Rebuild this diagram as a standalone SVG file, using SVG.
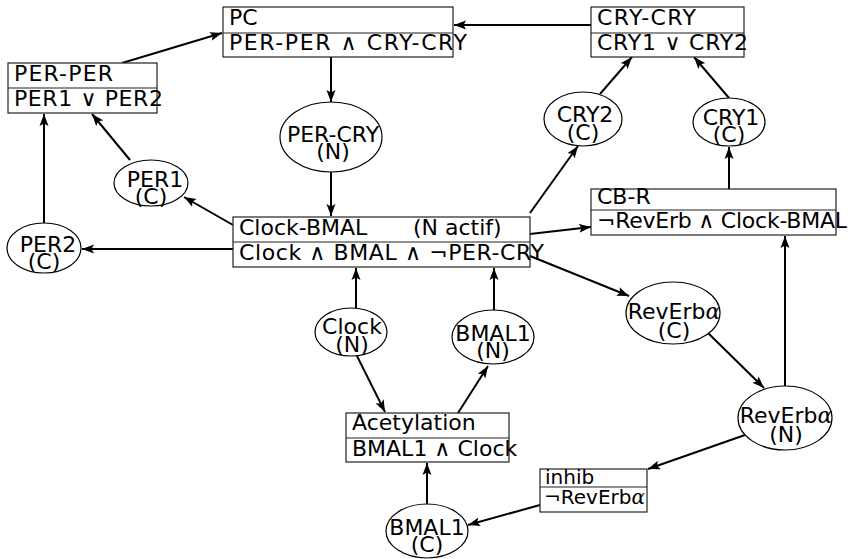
<svg xmlns="http://www.w3.org/2000/svg" width="852" height="559" viewBox="0 0 852 559">
<style>
text{font-family:"DejaVu Sans","Liberation Sans",sans-serif;font-size:22px;fill:#000}
.m{text-anchor:middle}
.s{font-size:20px}
.box{fill:#fff;stroke:#222;stroke-width:1.2}
.div{stroke:#222;stroke-width:1.2}
.ell{fill:#fff;stroke:#000;stroke-width:1.2}
.e path{fill:none;stroke:#000;stroke-width:2;marker-end:url(#ah)}
.a{font-style:italic;font-family:"DejaVu Serif",serif}
</style>
<defs>
<marker id="ah" markerUnits="userSpaceOnUse" markerWidth="14" markerHeight="10" refX="12" refY="5" orient="auto">
<path d="M0,0.5 L12,5 L0,9.5 L2.5,5 Z" fill="#000"/>
</marker>
</defs>
<g class="e" id="connectors">
<path d="M122,63 L222,33"/>
<path d="M591,25 L454,25"/>
<path d="M331,57 L331,102"/>
<path d="M331,172 L331,216"/>
<path d="M233,225 L184,197"/>
<path d="M130,160 L92,114"/>
<path d="M44,223 L44,114"/>
<path d="M233,249 L82,249"/>
<path d="M530,213 L578,146"/>
<path d="M600,94 L632,57"/>
<path d="M729,98 L694,57"/>
<path d="M729,189 L729,147"/>
<path d="M530,234 L591,227"/>
<path d="M530,256 L629,296"/>
<path d="M708,333 L764,388"/>
<path d="M785,386 L785,236"/>
<path d="M745,435 L648,469"/>
<path d="M540,505 L468,525"/>
<path d="M427,504 L427,463"/>
<path d="M458,413 L488,366"/>
<path d="M357,356 L385,412"/>
<path d="M356,308 L356,268"/>
<path d="M494,310 L494,268"/>
</g>
<g id="pc">
<rect class="box" x="223" y="7" width="230" height="50"/>
<line class="div" x1="223" y1="33" x2="453" y2="33"/>
<text x="229" y="25">PC</text>
<text x="229" y="50" textLength="238">PER-PER ∧ CRY-CRY</text>
</g>
<g id="crycry">
<rect class="box" x="591" y="7" width="153" height="50"/>
<line class="div" x1="591" y1="33" x2="744" y2="33"/>
<text x="597" y="25" textLength="99">CRY-CRY</text>
<text x="597" y="50" textLength="151">CRY1 ∨ CRY2</text>
</g>
<g id="perper">
<rect class="box" x="8" y="63" width="149" height="50"/>
<line class="div" x1="8" y1="88" x2="157" y2="88"/>
<text x="14" y="81" textLength="99">PER-PER</text>
<text x="14" y="106" textLength="149">PER1 ∨ PER2</text>
</g>
<g id="clockbmal">
<rect class="box" x="233" y="217" width="297" height="50"/>
<line class="div" x1="233" y1="242" x2="530" y2="242"/>
<text x="239" y="235">Clock-BMAL</text>
<text x="413" y="235">(N actif)</text>
<text x="239" y="260" textLength="305">Clock ∧ BMAL ∧ ¬PER-CRY</text>
</g>
<g id="cbr">
<rect class="box" x="591" y="189" width="245" height="46"/>
<line class="div" x1="591" y1="210" x2="836" y2="210"/>
<text x="597" y="204">CB-R</text>
<text x="597" y="228" textLength="250">¬RevErb ∧ Clock-BMAL</text>
</g>
<g id="acetylation">
<rect class="box" x="346" y="413" width="163" height="49"/>
<line class="div" x1="346" y1="438" x2="509" y2="438"/>
<text x="352" y="430">Acetylation</text>
<text x="352" y="456">BMAL1 ∧ Clock</text>
</g>
<g id="inhib">
<rect class="box" x="540" y="469" width="107" height="43"/>
<line class="div" x1="540" y1="487" x2="647" y2="487"/>
<text class="s" x="545" y="484">inhib</text>
<text class="s" x="544" y="504">¬RevErb<tspan class="a">α</tspan></text>
</g>
<g id="percry">
<ellipse class="ell" cx="331" cy="137" rx="51" ry="35"/>
<text class="m" x="333" y="142">PER-CRY</text>
<text class="m" x="333" y="159">(N)</text>
</g>
<g id="per1">
<ellipse class="ell" cx="151" cy="183" rx="37" ry="23"/>
<text class="m" x="155" y="187">PER1</text>
<text class="m" x="151" y="204">(C)</text>
</g>
<g id="per2">
<ellipse class="ell" cx="44" cy="248" rx="37" ry="25"/>
<text class="m" x="48" y="252">PER2</text>
<text class="m" x="44" y="269">(C)</text>
</g>
<g id="cry2">
<ellipse class="ell" cx="583" cy="119" rx="39" ry="27"/>
<text class="m" x="585" y="122">CRY2</text>
<text class="m" x="583" y="140">(C)</text>
</g>
<g id="cry1">
<ellipse class="ell" cx="729" cy="122" rx="36" ry="24"/>
<text class="m" x="731" y="125">CRY1</text>
<text class="m" x="729" y="142">(C)</text>
</g>
<g id="clockn">
<ellipse class="ell" cx="351" cy="332" rx="36" ry="24"/>
<text class="m" x="352" y="334">Clock</text>
<text class="m" x="352" y="352">(N)</text>
</g>
<g id="bmal1n">
<ellipse class="ell" cx="493" cy="337" rx="41" ry="27"/>
<text class="m" x="493" y="341">BMAL1</text>
<text class="m" x="493" y="358">(N)</text>
</g>
<g id="reverbc">
<ellipse class="ell" cx="673" cy="313" rx="47" ry="31"/>
<text class="m" x="674" y="319">RevErb<tspan class="a">α</tspan></text>
<text class="m" x="674" y="338">(C)</text>
</g>
<g id="reverbn">
<ellipse class="ell" cx="785" cy="418" rx="47" ry="32"/>
<text class="m" x="786" y="423">RevErb<tspan class="a">α</tspan></text>
<text class="m" x="786" y="442">(N)</text>
</g>
<g id="bmal1c">
<ellipse class="ell" cx="427" cy="531" rx="41" ry="27"/>
<text class="m" x="427" y="535">BMAL1</text>
<text class="m" x="427" y="552">(C)</text>
</g>
</svg>
